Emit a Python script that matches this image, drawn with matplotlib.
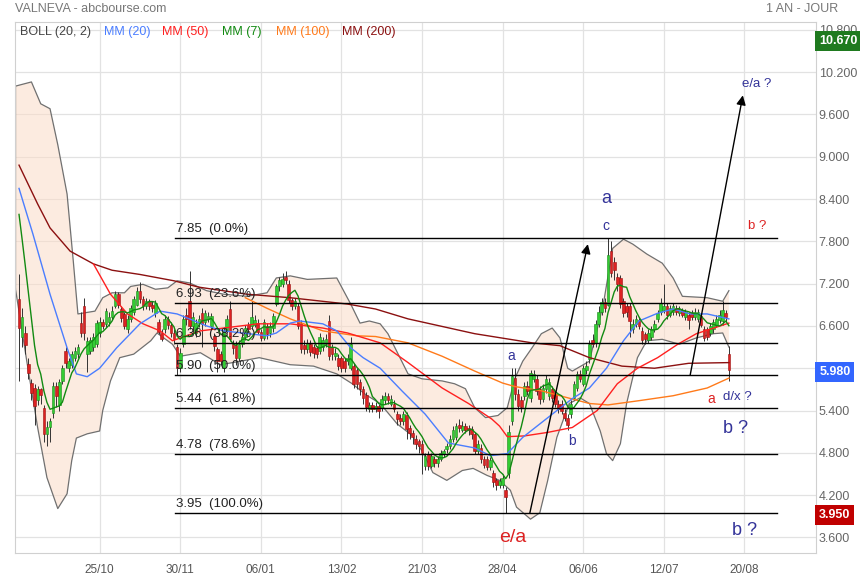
import numpy as np
import pandas as pd
import matplotlib
matplotlib.use("Agg")
import matplotlib.pyplot as plt
import matplotlib.transforms as mtransforms

plt.rcParams['font.family'] = ['Liberation Sans', 'DejaVu Sans']

# daily candles, index 0 = first session shown
opens = [6.98, 6.45, 6.50, 6.06, 5.79, 5.72, 5.55, 5.70, 5.44, 5.07,
         5.17, 5.37, 5.75, 5.48, 5.82, 6.25, 6.00, 6.05, 6.15, 6.20,
         6.64, 6.88, 6.20, 6.25, 6.30, 6.34, 6.50, 6.65, 6.63, 6.66,
         6.72, 6.88, 7.05, 6.84, 6.77, 6.55, 6.70, 6.80, 6.90, 7.10,
         6.98, 6.88, 6.95, 6.90, 6.78, 6.65, 6.50, 6.55, 6.70, 6.62,
         6.50, 6.30, 6.00, 6.34, 6.75, 6.95, 6.60, 6.50, 6.64, 6.78,
         6.66, 6.70, 6.60, 6.46, 6.27, 6.20, 6.00, 6.53, 6.84, 6.35,
         6.33, 6.15, 6.35, 6.45, 6.62, 6.60, 6.62, 6.64, 6.52, 6.43,
         6.60, 6.50, 6.57, 6.91, 7.16, 7.20, 7.30, 7.20, 6.97, 6.88,
         6.88, 6.64, 6.33, 6.27, 6.35, 6.30, 6.28, 6.25, 6.30, 6.35,
         6.67, 6.30, 6.18, 6.15, 6.15, 6.10, 6.10, 6.00, 6.03, 5.97,
         5.80, 5.71, 5.62, 5.42, 5.48, 5.42, 5.47, 5.43, 5.55, 5.60,
         5.50, 5.50, 5.35, 5.30, 5.25, 5.33, 5.15, 5.08, 5.00, 4.97,
         4.93, 4.62, 4.78, 4.62, 4.72, 4.65, 4.72, 4.78, 4.85, 4.90,
         5.00, 5.02, 5.20, 5.13, 5.18, 5.15, 5.14, 5.07, 4.83, 4.87,
         4.72, 4.72, 4.60, 4.52, 4.41, 4.34, 4.35, 4.28, 4.52, 5.25,
         5.86, 5.64, 5.55, 5.60, 5.75, 5.58, 5.85, 5.85, 5.71, 5.56,
         5.70, 5.60, 5.70, 5.63, 5.50, 5.50, 5.36, 5.30, 5.35, 5.58,
         5.72, 5.92, 5.78, 5.97, 6.13, 6.40, 6.36, 6.63, 6.80, 6.94,
         6.90, 7.66, 7.50, 7.30, 7.28, 6.95, 6.88, 6.88, 6.55, 6.63,
         6.68, 6.53, 6.48, 6.40, 6.45, 6.56, 6.70, 6.80, 6.82, 6.88,
         6.76, 6.80, 6.85, 6.78, 6.83, 6.72, 6.75, 6.78, 6.72, 6.70,
         6.74, 6.56, 6.55, 6.50, 6.55, 6.62, 6.68, 6.67, 6.78, 6.20]
closes = [6.57, 6.72, 6.33, 5.93, 5.65, 5.47, 5.70, 5.62, 5.07, 5.17,
          5.25, 5.75, 5.60, 5.80, 6.00, 6.08, 6.10, 6.20, 6.25, 6.30,
          6.50, 6.50, 6.39, 6.40, 6.45, 6.64, 6.65, 6.60, 6.81, 6.72,
          6.81, 7.05, 6.90, 6.71, 6.60, 6.70, 6.85, 6.98, 7.10, 6.98,
          6.88, 6.95, 6.88, 6.85, 6.92, 6.52, 6.42, 6.70, 6.62, 6.50,
          6.42, 6.00, 6.22, 6.70, 6.70, 6.60, 6.72, 6.64, 6.70, 6.63,
          6.78, 6.74, 6.74, 6.31, 6.10, 6.10, 6.53, 6.70, 6.41, 6.28,
          6.15, 6.35, 6.45, 6.57, 6.55, 6.72, 6.68, 6.52, 6.43, 6.66,
          6.48, 6.60, 6.74, 7.16, 7.25, 7.27, 7.25, 6.97, 6.88, 6.96,
          6.60, 6.27, 6.27, 6.36, 6.23, 6.22, 6.20, 6.45, 6.40, 6.42,
          6.18, 6.20, 6.22, 6.03, 6.00, 6.00, 6.15, 6.35, 5.78, 5.78,
          5.70, 5.58, 5.45, 5.48, 5.42, 5.47, 5.40, 5.57, 5.60, 5.55,
          5.57, 5.42, 5.28, 5.25, 5.35, 5.14, 5.08, 5.02, 4.93, 4.90,
          4.80, 4.76, 4.62, 4.75, 4.65, 4.72, 4.80, 4.82, 4.90, 5.00,
          5.12, 5.18, 5.15, 5.18, 5.13, 5.12, 5.07, 4.83, 4.92, 4.72,
          4.63, 4.60, 4.70, 4.38, 4.34, 4.40, 4.45, 4.17, 5.10, 5.89,
          5.64, 5.47, 5.45, 5.75, 5.68, 5.93, 5.92, 5.68, 5.56, 5.72,
          5.85, 5.80, 5.58, 5.50, 5.42, 5.40, 5.30, 5.20, 5.50, 5.78,
          5.92, 5.85, 6.00, 6.03, 6.34, 6.35, 6.63, 6.80, 6.94, 6.85,
          7.60, 7.35, 7.40, 7.20, 6.91, 6.78, 6.80, 6.67, 6.63, 6.70,
          6.60, 6.40, 6.42, 6.50, 6.55, 6.63, 6.78, 6.93, 6.88, 6.75,
          6.85, 6.88, 6.80, 6.84, 6.76, 6.80, 6.68, 6.73, 6.80, 6.80,
          6.62, 6.43, 6.45, 6.60, 6.65, 6.70, 6.75, 6.82, 6.72, 5.98]
highs = [7.33, 6.85, 6.60, 6.15, 5.85, 5.78, 5.75, 5.72, 5.48, 5.25,
         5.30, 5.80, 5.80, 5.85, 6.05, 6.30, 6.15, 6.25, 6.30, 6.35,
         6.80, 7.00, 6.45, 6.45, 6.50, 6.68, 6.72, 6.70, 6.85, 6.80,
         6.88, 7.10, 7.08, 6.88, 6.80, 6.75, 6.90, 7.02, 7.15, 7.22,
         7.02, 7.00, 6.98, 6.95, 6.97, 6.70, 6.55, 6.75, 6.74, 6.66,
         6.55, 6.35, 6.28, 6.75, 6.85, 7.38, 6.80, 6.70, 6.75, 6.85,
         6.82, 6.80, 6.78, 6.50, 6.30, 6.25, 6.58, 6.75, 6.95, 6.40,
         6.38, 6.40, 6.50, 6.62, 6.66, 6.95, 6.75, 6.70, 6.56, 6.70,
         6.64, 6.65, 6.78, 7.20, 7.30, 7.35, 7.38, 7.25, 7.00, 7.00,
         6.92, 6.68, 6.40, 6.42, 6.40, 6.34, 6.32, 6.50, 6.45, 6.48,
         6.75, 6.35, 6.28, 6.20, 6.18, 6.14, 6.20, 6.45, 6.08, 6.00,
         5.85, 5.75, 5.66, 5.52, 5.52, 5.52, 5.50, 5.62, 5.66, 5.65,
         5.62, 5.55, 5.40, 5.35, 5.40, 5.38, 5.20, 5.12, 5.05, 5.00,
         4.98, 4.80, 4.82, 4.80, 4.76, 4.76, 4.84, 4.86, 4.94, 5.05,
         5.18, 5.22, 5.28, 5.25, 5.22, 5.20, 5.18, 5.10, 4.98, 4.92,
         4.76, 4.75, 4.74, 4.56, 4.45, 4.45, 4.50, 4.32, 5.20, 6.00,
         6.00, 5.70, 5.60, 5.80, 5.82, 5.98, 5.98, 5.90, 5.75, 5.78,
         5.90, 5.86, 5.75, 5.68, 5.55, 5.55, 5.42, 5.35, 5.55, 5.82,
         5.96, 5.98, 6.05, 6.10, 6.40, 6.48, 6.68, 6.88, 7.00, 7.00,
         7.85, 7.80, 7.58, 7.35, 7.32, 7.00, 6.92, 6.92, 6.70, 6.75,
         6.72, 6.58, 6.52, 6.55, 6.60, 6.68, 6.82, 7.00, 7.20, 6.92,
         6.90, 6.92, 6.90, 6.88, 6.86, 6.84, 6.80, 6.82, 6.85, 6.84,
         6.78, 6.60, 6.58, 6.64, 6.70, 6.75, 6.82, 6.95, 6.82, 6.32]
lows = [5.82, 6.30, 6.20, 5.85, 5.55, 5.20, 5.48, 5.50, 4.95, 4.90,
        4.95, 5.30, 5.45, 5.40, 5.78, 6.00, 5.95, 6.00, 6.10, 6.15,
        6.45, 6.40, 5.95, 6.20, 6.25, 6.30, 6.45, 6.55, 6.58, 6.60,
        6.68, 6.85, 6.85, 6.65, 6.55, 6.50, 6.65, 6.75, 6.88, 6.92,
        6.82, 6.84, 6.82, 6.80, 6.72, 6.48, 6.38, 6.50, 6.55, 6.45,
        6.35, 5.90, 5.95, 6.30, 6.62, 6.55, 6.50, 6.45, 6.58, 6.30,
        6.60, 6.65, 6.55, 6.25, 5.95, 6.05, 5.95, 6.50, 6.38, 6.20,
        6.05, 6.10, 6.30, 6.40, 6.50, 6.55, 6.58, 6.48, 6.38, 6.40,
        6.42, 6.45, 6.52, 6.88, 7.10, 7.15, 7.20, 6.92, 6.82, 6.84,
        6.55, 6.22, 6.20, 6.22, 6.18, 6.15, 6.14, 6.20, 6.25, 6.30,
        6.12, 6.12, 6.12, 5.98, 5.95, 5.94, 6.05, 5.98, 5.72, 5.70,
        5.62, 5.50, 5.40, 5.38, 5.38, 5.38, 5.30, 5.40, 5.50, 5.50,
        5.46, 5.38, 5.20, 5.20, 5.20, 5.00, 5.00, 4.92, 4.85, 4.80,
        4.50, 4.55, 4.55, 4.58, 4.60, 4.60, 4.68, 4.74, 4.80, 4.86,
        4.95, 4.98, 5.10, 5.10, 5.08, 5.06, 5.00, 4.78, 4.78, 4.66,
        4.58, 4.55, 4.55, 4.32, 4.28, 4.30, 4.30, 3.95, 4.45, 5.20,
        5.55, 5.40, 5.38, 5.55, 5.62, 5.52, 5.80, 5.62, 5.50, 5.52,
        5.65, 5.55, 5.52, 5.45, 5.36, 5.35, 5.25, 5.12, 5.30, 5.55,
        5.68, 5.80, 5.75, 5.92, 6.08, 6.30, 6.30, 6.58, 6.75, 6.80,
        6.88, 7.30, 7.25, 7.10, 6.85, 6.72, 6.72, 6.45, 6.50, 6.58,
        6.55, 6.35, 6.35, 6.36, 6.40, 6.52, 6.65, 6.75, 6.78, 6.70,
        6.72, 6.76, 6.76, 6.74, 6.72, 6.68, 6.55, 6.68, 6.68, 6.65,
        6.58, 6.38, 6.40, 6.46, 6.50, 6.58, 6.64, 6.62, 6.66, 5.82]
closes_before = [9.2, 8.9, 8.6, 8.3, 8.1, 7.6]   # sessions before the window (for MM7)

date_pos = [26, 52, 78, 104, 130, 156, 182, 208, 234]
date_labels = ['25/10', '30/11', '06/01', '13/02', '21/03', '28/04', '06/06', '12/07', '20/08']
y_ticks = [3.6, 4.2, 4.8, 5.4, 6.0, 6.6, 7.2, 7.8, 8.4, 9.0, 9.6, 10.2, 10.8]

# indicators (index, value)
bb_up_idx = [-1.2, 4, 7, 10, 12.5, 15.5, 17.5, 19, 24.5, 27, 30, 34, 36, 40, 44, 48, 51, 55,
             60.5, 66, 73.5, 80, 83, 87.5, 93, 102.5, 107, 110, 113, 116.5, 119, 125.5, 130,
             136.5, 140.5, 144, 147, 150.5, 154.5, 157.5, 160, 162.5, 165.5, 168.5, 172, 174.5,
             177, 178.5, 184, 188.5, 191.5, 195, 198, 202.5, 207.5, 211, 214, 222, 227, 229]
bb_up = [10.0, 10.06, 9.75, 9.68, 9.17, 8.47, 7.52, 6.77, 6.81, 7.0, 7.07, 7.07, 7.16, 7.19,
         7.12, 7.14, 7.24, 7.21, 7.1, 7.05, 7.02, 7.07, 7.28, 7.31, 7.26, 7.28, 6.91, 6.64,
         6.67, 6.63, 6.49, 5.92, 5.85, 5.82, 5.78, 5.71, 5.44, 5.3, 5.33, 5.44, 5.86, 6.1,
         6.29, 6.49, 6.57, 6.43, 6.0, 5.96, 6.1, 6.91, 7.7, 7.83, 7.76, 7.62, 7.49, 7.28,
         7.02, 7.0, 6.95, 7.1]
bb_lo_idx = [-1.2, 2.5, 6, 9, 12.5, 15.5, 17, 18.5, 22, 26, 27, 29.5, 32.5, 37, 42.5, 44.5,
             49.5, 52, 58.5, 65, 71.5, 77.5, 87.5, 95, 102.5, 107.5, 112, 116.5, 122, 127,
             130.5, 133.5, 138, 143, 146.5, 151, 155, 158.5, 160.5, 165, 168, 170.5, 173.5,
             177.5, 181, 184, 187.5, 189.5, 191.5, 194, 196, 199.5, 202.5, 207.5, 213, 218.5,
             224, 227, 229]
bb_lo = [7.14, 6.1, 5.16, 4.45, 4.01, 4.22, 4.69, 5.01, 5.07, 5.11, 5.4, 5.82, 6.15, 6.2,
         6.39, 6.5, 6.34, 6.17, 6.22, 6.05, 6.1, 6.15, 6.05, 6.03, 5.92, 5.78, 5.62, 5.5,
         5.21, 5.04, 4.79, 4.52, 4.41, 4.55, 4.58, 4.48, 4.41, 4.27, 4.03, 3.86, 3.95, 4.4,
         5.02, 5.5, 5.58, 5.5, 5.11, 4.79, 4.69, 4.93, 5.5, 6.15, 6.39, 6.41, 6.34, 6.43,
         6.49, 6.5, 6.3]
mm20_idx = [0, 4.5, 10, 15.5, 18.5, 22, 26, 31.5, 39, 45.5, 51, 55, 60.5, 66, 72, 80, 83,
            87.5, 90.5, 98, 102.5, 107, 111, 116.5, 123.5, 131, 138.5, 147, 152, 157.5,
            162.5, 168, 173.5, 178.5, 184, 189.5, 195, 200, 206, 211, 216.5, 222, 229]
mm20 = [8.55, 7.9, 7.05, 6.29, 5.92, 5.88, 6.0, 6.29, 6.63, 6.81, 6.77, 6.7, 6.6, 6.53, 6.5,
        6.46, 6.5, 6.64, 6.67, 6.63, 6.53, 6.29, 6.15, 6.0, 5.68, 5.35, 4.94, 4.87, 4.76,
        4.79, 5.02, 5.21, 5.4, 5.57, 5.72, 6.0, 6.39, 6.67, 6.78, 6.84, 6.77, 6.77, 6.7]
mm50_idx = [24, 29.5, 35, 40, 45.5, 49.5, 54, 58.5, 66, 77, 87.5, 98, 106, 116.5, 125.5,
            136.5, 145, 152.5, 155, 157.5, 163, 170.5, 178.5, 186.5, 193, 199.5, 206, 212.5,
            218.5, 229]
mm50 = [7.48, 7.05, 6.77, 6.63, 6.53, 6.39, 6.46, 6.53, 6.57, 6.63, 6.63, 6.57, 6.5, 6.36,
        6.08, 5.72, 5.5, 5.28, 5.18, 5.03, 5.04, 5.09, 5.16, 5.4, 5.78, 6.0, 6.15, 6.34,
        6.49, 6.64]
mm100_idx = [73, 80, 87.5, 98, 109, 115, 125.5, 136.5, 147, 156, 160, 168.5, 174.5, 184, 190,
             200, 211, 222, 229]
mm100 = [7.0, 6.85, 6.7, 6.53, 6.46, 6.45, 6.36, 6.17, 5.96, 5.79, 5.74, 5.68, 5.61, 5.5, 5.48,
         5.54, 5.61, 5.72, 5.86]
mm200_idx = [0, 6, 10, 16.5, 24, 30, 39, 50, 58, 73.5, 87.5, 106, 115, 125.5, 147, 165.5,
             174.5, 184, 194.5, 205, 216, 229]
mm200 = [8.88, 8.33, 7.99, 7.66, 7.48, 7.39, 7.33, 7.24, 7.15, 7.05, 7.0, 6.91, 6.84, 6.7,
         6.49, 6.36, 6.32, 6.15, 6.03, 6.0, 6.07, 6.08]

fib_levels = [7.85, 6.93, 6.36, 5.90, 5.44, 4.78, 3.95]
fib_pcts = ['0.0%', '23.6%', '38.2%', '50.0%', '61.8%', '78.6%', '100.0%']
fib_span = [50.3, 244.5]

price_high, price_last, price_low = 10.67, 5.98, 3.95

idx = np.arange(len(closes))
o = np.array(opens)
c = np.array(closes)
mm7 = pd.Series(closes_before + closes).rolling(7).mean().to_numpy()[len(closes_before):]

fig = plt.figure(figsize=(8.6, 5.8), dpi=100)
ax = fig.add_axes([15 / 860, 27 / 580, 801 / 860, 531 / 580])
ax.set_xlim(-1.3, 257.1)
ax.set_ylim(3.38, 10.91)

# grid / frame
ax.set_xticks(date_pos)
ax.set_xticklabels(date_labels, color='#555555', fontsize=8.5)
ax.set_yticks(y_ticks)
ax.set_yticklabels(['%.3f' % v for v in y_ticks], color='#666666', fontsize=9)
ax.yaxis.tick_right()
ax.tick_params(axis='both', length=0)
ax.tick_params(axis='x', pad=8)
ax.tick_params(axis='y', pad=2)
ax.grid(True, color='#e2e2e2', lw=0.9, zorder=0)
ax.set_axisbelow(True)
for s in ax.spines.values():
    s.set_color('#d0d0d0')

# bollinger
poly_x = bb_up_idx + bb_lo_idx[::-1]
poly_y = bb_up + bb_lo[::-1]
ax.fill(poly_x, poly_y, color='#fbdcc8', alpha=0.55, lw=0, zorder=1)
ax.plot(bb_up_idx, bb_up, color='#707070', lw=0.9, zorder=2)
ax.plot(bb_lo_idx, bb_lo, color='#707070', lw=0.9, zorder=2)
ax.plot([bb_up_idx[0], bb_lo_idx[0]], [bb_up[0], bb_lo[0]], color='#707070', lw=0.9, zorder=2)

# candles
up = c >= o
ax.vlines(idx, lows, highs, color='#333333', lw=0.7, zorder=3)
ax.bar(idx[up], c[up] - o[up], bottom=o[up], width=0.85, color='#33cc33',
       edgecolor='#1a8a1a', lw=0.4, zorder=4)
ax.bar(idx[~up], o[~up] - c[~up], bottom=c[~up], width=0.85, color='#dd2222',
       edgecolor='#991111', lw=0.4, zorder=4)

# moving averages
ax.plot(mm200_idx, mm200, color='#8b1010', lw=1.0, zorder=5)
ax.plot(mm100_idx, mm100, color='#ff7a1a', lw=1.0, zorder=5)
ax.plot(mm50_idx, mm50, color='#ff2020', lw=1.0, zorder=5)
ax.plot(mm20_idx, mm20, color='#4a7dff', lw=1.0, zorder=5)
ax.plot(idx, mm7, color='#128a12', lw=1.0, zorder=5)

# fibonacci retracements
for lvl, pct in zip(fib_levels, fib_pcts):
    ax.plot(fib_span, [lvl, lvl], color='black', lw=1.0, zorder=6)
    ax.text(fib_span[0] + 0.3, lvl + 0.04, '%.2f  (%s)' % (lvl, pct), fontsize=9.5,
            color='#222222', ha='left', va='bottom', zorder=6)

# wave arrows
arrow_starts = [(164.8, 3.95), (216.5, 5.90)]
arrow_ends = [(183.5, 7.76), (233.5, 9.87)]
for (x0, y0), (x1, y1) in zip(arrow_starts, arrow_ends):
    ax.annotate('', xy=(x1, y1), xytext=(x0, y0), zorder=7,
                arrowprops=dict(arrowstyle='-|>', color='black', lw=1.0,
                                mutation_scale=14, shrinkA=0, shrinkB=0))

navy = '#333399'
red = '#dd2222'
ax.text(158.7, 6.17, 'a', color=navy, fontsize=10, ha='center', va='center')
ax.text(178.4, 4.97, 'b', color=navy, fontsize=10, ha='center', va='center')
ax.text(189.4, 8.41, 'a', color=navy, fontsize=13, ha='center', va='center')
ax.text(189.4, 8.02, 'c', color=navy, fontsize=10, ha='center', va='center')
ax.text(233.2, 10.03, 'e/a ?', color=navy, fontsize=9.5, ha='left', va='center')
ax.text(235.2, 8.02, 'b ?', color=red, fontsize=9.5, ha='left', va='center')
ax.text(223.2, 5.57, 'a', color=red, fontsize=10, ha='center', va='center')
ax.text(227.1, 5.59, 'd/x ?', color=navy, fontsize=9.5, ha='left', va='center')
ax.text(227.1, 5.15, 'b ?', color=navy, fontsize=13, ha='left', va='center')
ax.text(230.0, 3.70, 'b ?', color=navy, fontsize=13, ha='left', va='center')
ax.text(159.4, 3.60, 'e/a', color=red, fontsize=14, ha='center', va='center')

# price boxes on the right axis (drawn over the tick labels, as on the site)
trans = mtransforms.blended_transform_factory(ax.transAxes, ax.transData)
for val, col in [(price_high, '#1f7a1f'), (price_last, '#3366ff'), (price_low, '#c00000')]:
    ax.text(1.004, val - 0.03, '%.3f' % val, transform=trans, ha='left', va='center',
            color='white', fontsize=9, fontweight='bold', zorder=10, clip_on=False,
            bbox=dict(boxstyle='square,pad=0.3', fc=col, ec='none'))

# legend row
legend_items = [('BOLL (20, 2)', '#444444'), ('MM (20)', '#4a7dff'), ('MM (50)', '#ff2020'),
                ('MM (7)', '#128a12'), ('MM (100)', '#ff7a1a'), ('MM (200)', '#8b1010')]
legend_x = [20, 104, 162, 222, 276, 342]
for (txt, col), lx in zip(legend_items, legend_x):
    fig.text(lx / 860, 1 - 32 / 580, txt, color=col, fontsize=9, ha='left', va='center')

fig.text(15 / 860, 1 - 9 / 580, 'VALNEVA - abcbourse.com', color='#777777', fontsize=9,
         ha='left', va='center')
fig.text(838 / 860, 1 - 9 / 580, '1 AN - JOUR', color='#777777', fontsize=9,
         ha='right', va='center')

fig.savefig('out.png', dpi=100)
